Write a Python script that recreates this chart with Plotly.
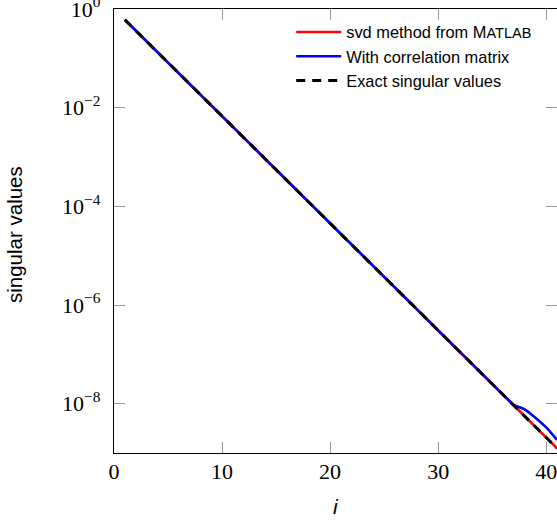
import plotly.graph_objects as go

# ---- data ----
i_values = list(range(1, 42))

exact_sv = [6.065e-1, 3.679e-1, 2.231e-1, 1.353e-1, 8.208e-2, 4.979e-2, 3.020e-2, 1.832e-2,
            1.111e-2, 6.738e-3, 4.087e-3, 2.479e-3, 1.503e-3, 9.119e-4, 5.531e-4, 3.355e-4,
            2.035e-4, 1.234e-4, 7.485e-5, 4.540e-5, 2.754e-5, 1.670e-5, 1.013e-5, 6.144e-6,
            3.727e-6, 2.260e-6, 1.371e-6, 8.315e-7, 5.043e-7, 3.059e-7, 1.855e-7, 1.125e-7,
            6.826e-8, 4.140e-8, 2.511e-8, 1.523e-8, 9.237e-9, 5.603e-9, 3.398e-9, 2.061e-9,
            1.250e-9]

svd_matlab = [6.065e-1, 3.679e-1, 2.231e-1, 1.353e-1, 8.208e-2, 4.979e-2, 3.020e-2, 1.832e-2,
              1.111e-2, 6.738e-3, 4.087e-3, 2.479e-3, 1.503e-3, 9.119e-4, 5.531e-4, 3.355e-4,
              2.035e-4, 1.234e-4, 7.485e-5, 4.540e-5, 2.754e-5, 1.670e-5, 1.013e-5, 6.144e-6,
              3.727e-6, 2.260e-6, 1.371e-6, 8.315e-7, 5.043e-7, 3.059e-7, 1.855e-7, 1.125e-7,
              6.826e-8, 4.140e-8, 2.511e-8, 1.523e-8, 9.24e-9, 5.60e-9, 3.40e-9, 2.06e-9,
              1.25e-9]

corr_matrix = [6.065e-1, 3.679e-1, 2.231e-1, 1.353e-1, 8.208e-2, 4.979e-2, 3.020e-2, 1.832e-2,
               1.111e-2, 6.738e-3, 4.087e-3, 2.479e-3, 1.503e-3, 9.119e-4, 5.531e-4, 3.355e-4,
               2.035e-4, 1.234e-4, 7.485e-5, 4.540e-5, 2.754e-5, 1.670e-5, 1.013e-5, 6.144e-6,
               3.727e-6, 2.260e-6, 1.371e-6, 8.315e-7, 5.043e-7, 3.059e-7, 1.855e-7, 1.125e-7,
               6.826e-8, 4.140e-8, 2.511e-8, 1.523e-8, 9.5e-9, 7.7e-9, 5.2e-9, 3.3e-9,
               1.85e-9]

x_tick_vals = [0, 10, 20, 30, 40]
x_tick_labels = ["0", "10", "20", "30", "40"]
y_tick_vals = [1, 1e-2, 1e-4, 1e-6, 1e-8]
y_tick_labels = ["10<sup>0</sup>", "10<sup>−2</sup>", "10<sup>−4</sup>",
                 "10<sup>−6</sup>", "10<sup>−8</sup>"]

series_names = ["svd method from M<span style='font-size:14.5px'>ATLAB</span>",
                "With correlation matrix",
                "Exact singular values"]

# ---- figure ----
fig = go.Figure()
fig.add_trace(go.Scatter(x=i_values, y=svd_matlab, mode="lines", name=series_names[0],
                         line=dict(color="#ff0000", width=2.6)))
fig.add_trace(go.Scatter(x=i_values, y=corr_matrix, mode="lines", name=series_names[1],
                         line=dict(color="#0000ff", width=2.6, shape="spline", smoothing=0.6)))
fig.add_trace(go.Scatter(x=i_values, y=exact_sv, mode="lines", name=series_names[2],
                         line=dict(color="#000000", width=3, dash="9px,7px")))
# invisible trace on a right-side overlay axis to carry the mirrored y ticks
fig.add_trace(go.Scatter(x=[None], y=[None], yaxis="y2", showlegend=False, hoverinfo="skip"))

tick_font = dict(family="Liberation Serif, DejaVu Serif, serif", size=22, color="#000000")

fig.update_layout(
    width=557, height=523,
    margin=dict(l=114, r=0, t=9, b=70, pad=0),
    paper_bgcolor="white", plot_bgcolor="white",
    showlegend=True,
    legend=dict(x=0.40, y=0.987, xanchor="left", yanchor="top",
                bgcolor="rgba(0,0,0,0)", borderwidth=0,
                font=dict(family="Liberation Sans, Arial, sans-serif", size=16.4, color="#000000"),
                itemwidth=45, tracegroupgap=0),
    xaxis=dict(range=[0, 41], tickvals=x_tick_vals, ticktext=x_tick_labels,
               showgrid=False, zeroline=False, showline=True, linecolor="#000000", linewidth=1.2,
               mirror="ticks", ticks="inside", ticklen=11, tickwidth=1, tickcolor="#999999",
               tickfont=tick_font, ticklabelstandoff=-2, ticklabeloverflow="allow",
               automargin=False),
    yaxis=dict(type="log", range=[-9, 0], tickvals=y_tick_vals, ticktext=y_tick_labels,
               showgrid=False, zeroline=False, showline=True, linecolor="#000000", linewidth=1.2,
               ticks="inside", ticklen=11, tickwidth=1, tickcolor="#999999",
               tickfont=tick_font, ticklabelstandoff=8, ticklabeloverflow="allow",
               automargin=False),
    yaxis2=dict(type="log", range=[-9, 0], overlaying="y", side="right",
                tickvals=y_tick_vals, showticklabels=False, showgrid=False, zeroline=False,
                showline=False, ticks="inside", ticklen=11, tickwidth=1, tickcolor="#999999",
                automargin=False),
    annotations=[
        dict(text="singular values", xref="paper", yref="paper", x=-0.226, y=0.493,
             xanchor="center", yanchor="middle", textangle=-90, showarrow=False,
             font=dict(family="Liberation Sans, Arial, sans-serif", size=20.5, color="#000000")),
        dict(text="<i>i</i>", xref="paper", yref="paper", x=0.5, y=-0.1216,
             xanchor="center", yanchor="middle", showarrow=False,
             font=dict(family="Liberation Sans, Arial, sans-serif", size=21, color="#000000")),
    ],
)

fig.write_html("out.html")
